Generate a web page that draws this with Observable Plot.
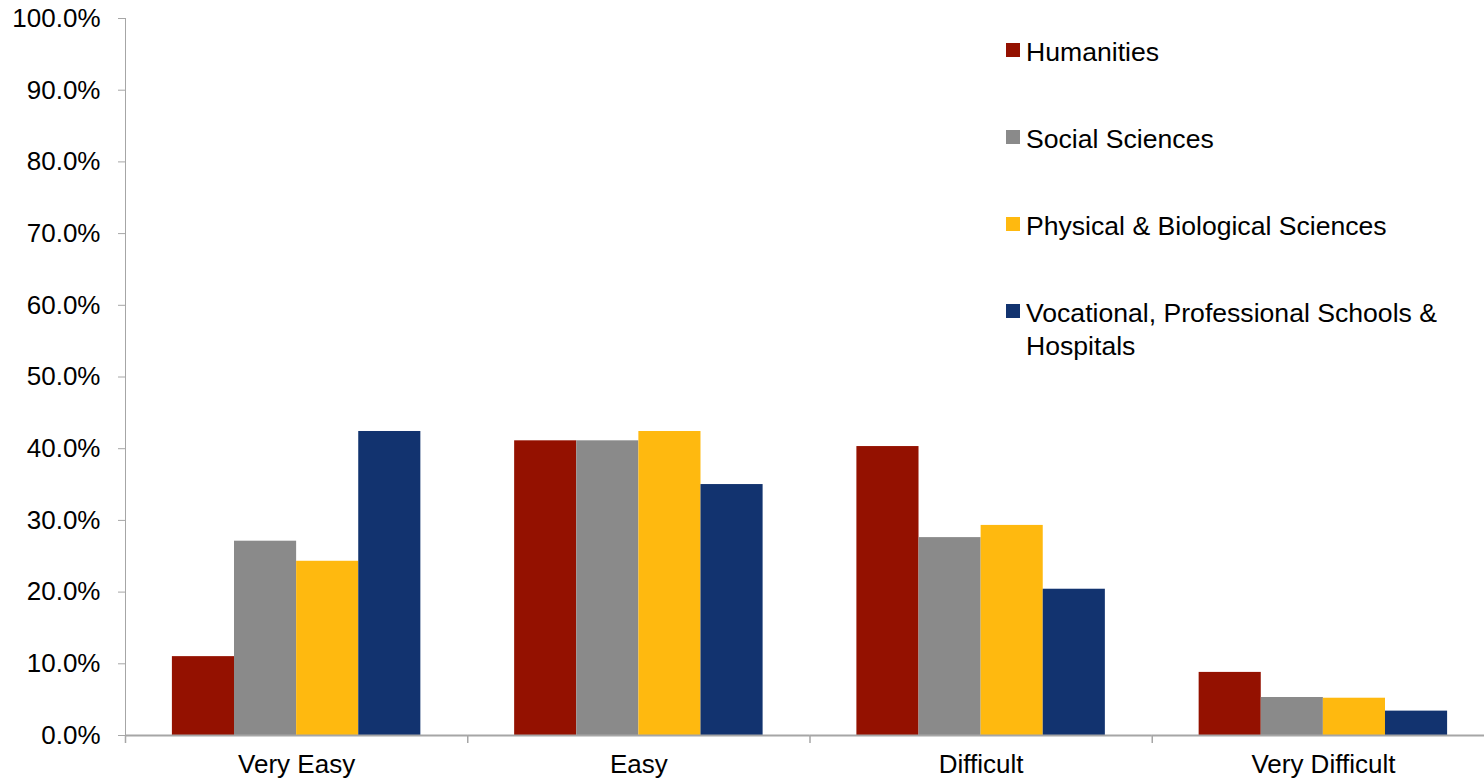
<!DOCTYPE html>
<html><head><meta charset="utf-8">
<script src="https://cdn.jsdelivr.net/npm/d3@7"></script>
<script src="https://cdn.jsdelivr.net/npm/@observablehq/plot@0.6"></script>
<style>
body{margin:0;background:#fff;font-family:"Liberation Sans",Arial,sans-serif;}
#wrap{position:relative;width:1484px;height:781px;overflow:hidden;background:#fff;}
#wrap svg text{fill:#000;}
#legend{position:absolute;left:1006px;top:36px;font-size:26.6px;color:#000;line-height:33px;}
.item{display:flex;align-items:flex-start;height:87px;}
.sw{width:14px;height:14px;margin-top:7px;margin-right:6px;flex:none;}
.lbl{width:445px;}
</style></head><body><div id="wrap"></div>
<script>
const categories = ["Very Easy", "Easy", "Difficult", "Very Difficult"];
const series = ["Humanities", "Social Sciences", "Physical & Biological Sciences", "Vocational, Professional Schools & Hospitals"];
const colors = ["#941100", "#8a8a8a", "#ffb90f", "#12336f"];
const humanities = [0.110, 0.411, 0.403, 0.088];
const socialSciences = [0.271, 0.411, 0.276, 0.053];
const physicalBiological = [0.243, 0.424, 0.293, 0.052];
const vocational = [0.424, 0.350, 0.204, 0.034];
const yTicks = [0, 0.1, 0.2, 0.3, 0.4, 0.5, 0.6, 0.7, 0.8, 0.9, 1.0];

const seriesValues = [humanities, socialSciences, physicalBiological, vocational];
const data = [];
categories.forEach((c, i) => series.forEach((s, j) => data.push({category: c, series: s, value: seriesValues[j][i]})));

const W = 1484, H = 781, mL = 125, mR = -10;
const bw = (W - mL - mR) / categories.length;
const axisGray = "#a6a6a6";

const chart = Plot.plot({
  width: W, height: H,
  marginLeft: mL, marginRight: mR, marginTop: 18, marginBottom: 46,
  style: {fontFamily: "Liberation Sans, Arial, sans-serif", fontSize: "26px", color: axisGray, background: "#fff", overflow: "visible"},
  fx: {domain: categories, padding: 0, round: false, label: null},
  x: {domain: series, paddingInner: 0, paddingOuter: 0.755, round: false, axis: null},
  y: {domain: [0, 1], ticks: yTicks, tickFormat: d3.format(".1%"), tickSize: 7, tickPadding: 18, line: true, label: null},
  color: {domain: series, range: colors},
  marks: [
    Plot.barY(data, {fx: "category", x: "series", y: "value", fill: "series"}),
    Plot.ruleY([0], {stroke: axisGray, strokeWidth: 2}),
    Plot.axisFx({anchor: "bottom", tickSize: 8, tickFormat: () => "", dx: -bw / 2, stroke: axisGray, strokeWidth: 1.5, label: null}),
    Plot.axisFx({anchor: "bottom", tickSize: 0, tickPadding: 19, fontSize: 26, label: null})
  ]
});
const wrap = document.getElementById("wrap");
wrap.appendChild(chart);

const legend = document.createElement("div");
legend.id = "legend";
series.forEach((s, j) => {
  const it = document.createElement("div");
  it.className = "item";
  it.innerHTML = `<div class="sw" style="background:${colors[j]}"></div><div class="lbl"></div>`;
  it.querySelector(".lbl").textContent = s;
  legend.appendChild(it);
});
wrap.appendChild(legend);
</script>
</body></html>
